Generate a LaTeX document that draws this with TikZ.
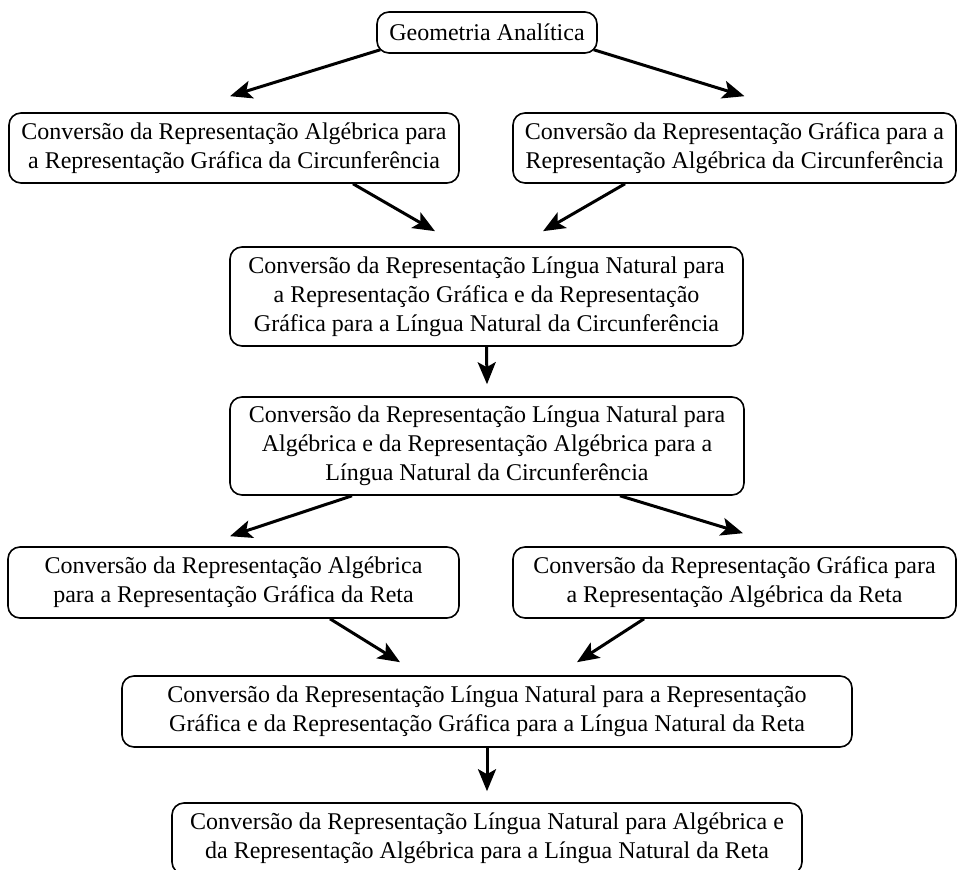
\documentclass[tikz,border=0pt]{standalone}
\usepackage{fontspec}
\setmainfont{Liberation Serif}
\usepackage{tikz}
\usetikzlibrary{calc,positioning,arrows.meta}

\tikzset{
	caixa/.style={draw, rounded corners=6pt, line width=0.8pt, align=center, inner sep=3pt, font=\fontsize{12}{14.5}\selectfont},
	seta/.style={-{Stealth[length=11pt, width=9pt, inset=2.5pt]}, line width=1.5pt},
}

\begin{document}
\begin{tikzpicture}[x=0.5pt, y=-0.5pt]
					\useasboundingbox (0, 0) rectangle (957, 870);

					\node[caixa, minimum width=110pt, minimum height=20.5pt] at (487, 32.5) (geo) {Geometria Analítica};

					% circunferencia
					\node[caixa, minimum width=225pt, minimum height=35pt] at (234, 148) (circA) {Conversão da Representação Algébrica para\\a Representação Gráfica da Circunferência};
					\node[caixa, minimum width=221.5pt, minimum height=35pt] at (734.5, 148) (circG) {Conversão da Representação Gráfica para a\\Representação Algébrica da Circunferência};
					\node[caixa, minimum width=256.5pt, minimum height=49.5pt] at (486.5, 296.5) (circLG) {Conversão da Representação Língua Natural para\\a Representação Gráfica e da Representação\\Gráfica para a Língua Natural da Circunferência};
					\node[caixa, minimum width=257pt, minimum height=49pt] at (487, 446) (circLA) {Conversão da Representação Língua Natural para\\Algébrica e da Representação Algébrica para a\\Língua Natural da Circunferência};

					% reta
					\node[caixa, minimum width=225.5pt, minimum height=35.5pt] at (233.5, 582.5) (retaA) {Conversão da Representação Algébrica\\para a Representação Gráfica da Reta};
					\node[caixa, minimum width=221.5pt, minimum height=35.5pt] at (734.5, 582.5) (retaG) {Conversão da Representação Gráfica para\\a Representação Algébrica da Reta};
					\node[caixa, minimum width=365pt, minimum height=35.5pt] at (487, 711.5) (retaLG) {Conversão da Representação Língua Natural para a Representação\\Gráfica e da Representação Gráfica para a Língua Natural da Reta};
					\node[caixa, minimum width=315pt, minimum height=35.5pt] at (487, 838.5) (retaLA) {Conversão da Representação Língua Natural para Algébrica e\\da Representação Algébrica para a Língua Natural da Reta};

					\draw[seta] ($(geo.south west) + (4, -4)$) -- ($(circA.north) + (-4, -16)$);
					\draw[seta] ($(geo.south east) + (-4, -4)$) -- ($(circG.north) + (10, -16)$);

					\draw[seta] ($(circA.south) + (119, 0)$) -- ($(circLG.north) + (-51.5, -15)$);
					\draw[seta] ($(circG.south) + (-109.5, 0)$) -- ($(circLG.north) + (56.5, -15)$);
					\draw[seta] (circLG.south) -- ($(circLA.north) + (0, -12)$);

					\draw[seta] ($(circLA.south) + (-135, 0)$) -- ($(retaA.north) + (-3.5, -10)$);
					\draw[seta] ($(circLA.south) + (133, 0)$) -- ($(retaG.north) + (8.5, -13)$);

					\draw[seta] ($(retaA.south) + (96.5, 0)$) -- ($(retaLG.north) + (-87, -13)$);
					\draw[seta] ($(retaG.south) + (-90.5, 0)$) -- ($(retaLG.north) + (90, -13)$);
					\draw[seta] (retaLG.south) -- ($(retaLA.north) + (0, -11)$);
				\end{tikzpicture}
\end{document}
